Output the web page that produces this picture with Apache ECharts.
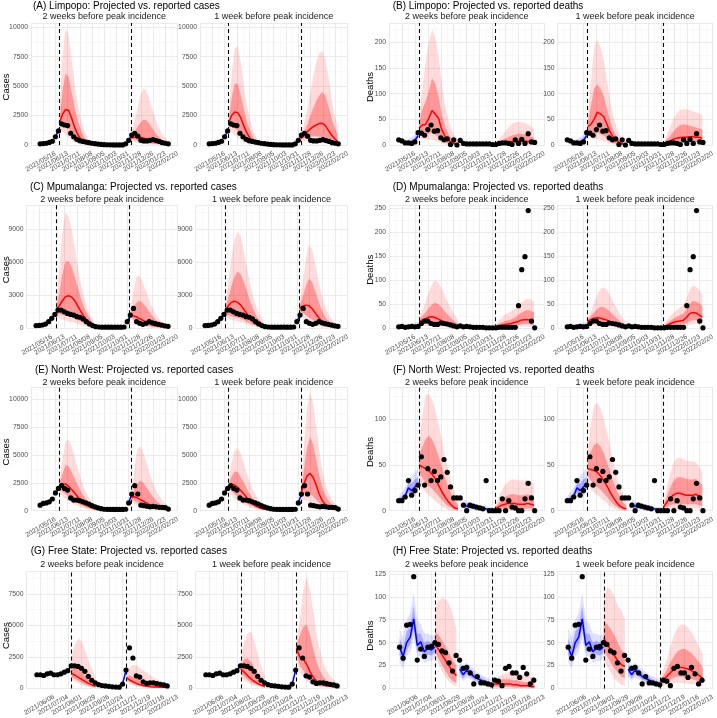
<!DOCTYPE html>
<html><head><meta charset="utf-8">
<script src="https://cdn.jsdelivr.net/npm/echarts@6/dist/echarts.min.js"></script>
<style>html,body{margin:0;padding:0;background:#fff}#c{width:717px;height:718px}</style>
</head><body><div id="c"></div>
<script>
// ---------- tick labels (week index 0 = first label, labels every 4 weeks) ----------
const ticksAF = ['2021/05/16','2021/06/13','2021/07/11','2021/08/08','2021/09/05','2021/10/03','2021/10/31','2021/11/28','2021/12/26','2022/01/23','2022/02/20'];
const ticksGH = ['2021/06/06','2021/07/04','2021/08/01','2021/08/29','2021/09/26','2021/10/24','2021/11/21','2021/12/19','2022/01/16','2022/02/13'];
const obsStart = -5;               // week of first reported value
const dashAF = [1.3, 24.8];        // projection start weeks (dashed lines)
const dashGH = [5.1, 21.2];
const blueSegAF = [[0, 1], [24, 25]];
const blueSegGH = [[4, 5], [20, 21]];

// ---------- reported values (weekly) ----------
const obsA = [100,120,150,220,320,700,1200,1800,1700,1650,1000,700,480,370,300,250,200,150,110,80,50,30,20,15,10,10,10,10,100,400,850,1000,750,400,350,350,400,450,380,300,200,150,100];
const obsB = [10,8,4,4,3,6,24,23,19,30,39,27,28,14,10,12,1,10,0,9,3,2,2,2,2,2,2,2,2,1,1,3,4,4,3,1,10,3,11,3,22,6,5];
const obsC = [250,260,300,380,600,900,1260,1650,1650,1500,1350,1260,1200,1050,1000,850,600,400,250,150,120,100,100,100,100,100,100,100,120,600,1200,1800,600,450,360,450,600,500,420,360,300,220,180];
const obsD = [3,4,2,3,4,3,4,10,15,15,10,8,8,11,10,9,7,5,3,5,3,4,3,2,2,2,2,1,1,1,1,2,2,2,2,2,2,47,122,149,245,15,1];
const obsE = [500,650,700,800,1050,1600,2000,2250,2000,1850,1150,950,950,900,800,700,600,450,350,250,180,130,120,110,110,110,110,110,130,700,1500,2250,1500,500,450,400,350,380,350,300,300,280,150];
const obsF = [11,11,15,33,17,22,28,59,28,46,33,43,33,37,56,42,26,14,14,14,6,0,6,5,4,3,2,33,0,0,0,0,13,0,11,4,3,0,0,13,30,14,0];
const obsG = [1090,1090,1030,1160,1210,1090,1090,1160,1290,1410,1800,1800,1750,1600,1360,960,650,450,300,230,200,170,130,110,100,350,1460,3230,2420,1000,900,530,400,450,450,380,330,280,200];
const obsH = [45,33,69,70,122,31,43,35,45,46,50,48,41,39,28,19,36,31,22,23,17,5,13,6,6,5,4,9,8,3,22,24,17,17,12,23,16,5,9];

// ---------- projections: [median, lo50, hi50, lo95, hi95], weekly from the dashed line ----------
const A2_1 = [[1850,2600,3000,2950,2300,1500,900,500,250,130,60,30,15],[1700,1600,1500,1350,1000,650,380,200,100,50,20,10,5],[2000,4500,6100,5800,4500,3200,2100,1300,700,380,200,100,50],[1500,1100,900,700,450,250,130,60,30,10,5,0,0],[2200,7500,9900,9300,7300,5200,3500,2200,1300,700,380,200,100]];
const A2_2 = [[600,650,680,650,600,520,430,350,270,200,150,110,80],[500,450,380,320,260,200,150,110,80,55,40,30,20],[700,1000,1500,1900,2150,2100,1800,1400,1000,700,450,300,200],[400,300,200,140,100,70,50,35,25,15,10,6,4],[850,1800,3000,4200,4800,4600,3900,3000,2200,1500,1000,650,400]];
const A1_1 = [[1850,2500,2800,2750,2300,1600,1000,550,280,140,70,35,15],[1700,1500,1400,1250,950,620,370,200,100,50,20,10,5],[2000,4000,5200,5200,4200,3000,2000,1200,650,350,180,90,45],[1500,1100,850,650,420,240,120,60,30,10,5,0,0],[2200,6000,8200,8400,7000,5000,3300,2100,1200,650,350,180,90]];
const A1_2 = [[550,800,1100,1350,1550,1700,1820,1850,1650,1250,850,550,300],[450,550,650,700,750,750,700,650,550,420,300,200,120],[650,1100,1700,2400,3100,3700,4200,4500,4200,3300,2300,1500,900],[350,350,350,330,300,270,230,200,160,120,80,50,30],[800,1700,2900,4300,5700,7000,7800,8000,7300,5800,4000,2600,1600]];

const B2_1 = [[33,39,40,52,67,60,52,30,17,10,5,3,2],[26,22,20,22,25,20,15,9,5,3,1,0,0],[40,70,85,105,130,120,95,60,38,22,13,7,4],[20,12,10,10,10,8,6,3,1,0,0,0,0],[50,110,160,200,225,210,175,120,80,50,30,17,10]];
const B2_2 = [[2,3,4,5,6,7,7,8,8,8,7,7,6],[1,1,1,1,2,2,2,2,2,2,2,2,2],[3,6,9,12,15,18,20,22,22,21,19,16,14],[0,0,0,0,0,0,0,0,0,0,0,0,0],[4,10,18,26,33,40,44,45,45,43,40,36,32]];
const B1_1 = [[36,40,50,64,60,55,40,25,15,9,4,2,1],[30,25,22,24,22,18,12,7,4,2,1,0,0],[42,75,110,118,110,95,70,45,28,16,9,5,3],[22,14,11,11,10,8,5,3,1,0,0,0,0],[55,120,190,205,190,165,125,85,55,33,20,12,7]];
const B1_2 = [[2,5,8,11,13,14,15,15,16,16,15,15,13],[1,2,3,4,5,5,6,6,6,6,6,5,5],[4,10,18,26,33,38,40,40,38,36,34,32,30],[0,0,0,1,1,1,1,1,1,1,1,1,1],[6,18,35,50,60,67,70,70,68,66,64,62,58]];
const B_fit = [[9,7,5,5,6,9,18],[8,6,4,3,4,6,14],[11,9,7,8,10,14,22],[7,4,2,2,3,4,10],[12,10,10,12,15,20,27]];

const C2_1 = [[1600,2000,2450,2850,2950,2850,2500,2000,1500,1050,700,450,280],[1400,1300,1200,1150,1100,1000,900,750,600,450,300,200,120],[1800,3000,4800,6000,6100,5600,4700,3700,2700,1900,1300,800,500],[1100,900,800,700,650,580,500,400,300,200,130,80,50],[2000,5000,8500,10500,10200,9000,7300,5600,4000,2800,1800,1100,700]];
const C2_2 = [[1200,1150,1050,900,750,600,470,360,270,200,150,110,80],[1100,850,650,500,380,280,200,140,100,70,50,35,25],[1300,1800,2300,2500,2350,2000,1600,1200,850,600,420,280,180],[1000,600,400,280,200,140,100,70,50,35,25,15,10],[1400,3000,4600,4800,4300,3500,2700,2000,1400,950,650,430,280]];
const C1_1 = [[1500,2000,2350,2450,2350,2100,1700,1300,900,600,380,240,150],[1300,1200,1100,1000,950,850,720,580,450,320,220,140,90],[1700,2700,3800,4700,5150,4900,4200,3300,2400,1700,1100,700,450],[1100,900,780,700,620,540,450,350,260,180,120,75,45],[1900,4000,6300,8000,8800,8300,7000,5400,4000,2800,1900,1200,800]];
const C1_2 = [[1800,2000,2100,2050,1800,1400,1000,650,400,250,160,100,60],[1600,1400,1200,1000,800,600,420,280,180,110,70,45,30],[2000,2800,3800,4500,4200,3400,2500,1700,1100,700,450,280,170],[1400,1000,750,550,400,280,190,120,80,50,30,20,12],[2200,4000,6200,7600,7200,5900,4400,3100,2100,1400,900,570,360]];

const D2_1 = [[14,17,20,23,24,22,19,16,13,10,7,5,3],[10,10,10,10,10,9,8,7,6,5,3,2,1],[18,25,33,42,50,53,50,43,35,27,20,14,10],[7,6,5,5,5,4,4,3,2,1,1,0,0],[22,35,55,75,92,100,95,83,68,53,40,28,18]];
const D2_2 = [[3,5,7,8,9,10,12,14,17,18,18,17,15],[1,2,3,4,5,5,6,7,8,9,9,8,7],[5,9,12,15,17,19,22,27,32,36,38,36,33],[0,0,1,1,2,2,2,3,3,4,4,4,3],[8,15,22,28,32,36,40,46,53,58,62,60,55]];
const D1_1 = [[15,18,21,22,21,19,17,14,11,8,6,4,3],[11,11,11,10,10,9,8,7,5,4,3,2,1],[18,25,33,40,45,44,40,34,27,21,15,10,7],[8,7,6,6,5,5,4,3,2,1,1,0,0],[22,35,52,70,82,85,80,68,55,42,30,20,13]];
const D1_2 = [[3,6,9,12,14,15,16,22,30,33,32,28,23],[1,2,4,5,6,7,8,10,14,17,17,15,13],[5,10,15,20,24,27,30,38,50,57,56,52,46],[0,1,1,2,3,3,4,5,7,9,9,8,7],[8,16,24,32,38,43,48,60,78,88,87,80,70]];
const D_fit = [[3,3,3,3,3,4,5],[2,2,2,2,2,2,3],[4,5,5,6,7,8,9],[1,1,1,1,1,1,1],[6,7,8,9,10,12,14]];

const E2_1 = [[2150,2400,2400,2200,1900,1600,1250,950,700,500,350,230,150],[1900,1700,1500,1300,1100,900,700,520,380,270,180,120,80],[2300,3300,4100,4000,3500,2900,2300,1750,1300,900,600,400,250],[1700,1300,1050,850,700,550,420,300,210,140,90,60,40],[2500,4500,6200,6400,5800,4800,3800,2900,2100,1500,1000,650,400]];
const E2_2 = [[1200,1250,1150,1000,850,700,550,420,320,240,180,130,90],[1000,900,750,600,480,380,300,230,170,120,90,60,40],[1350,1900,2400,2700,2500,2100,1700,1300,950,700,500,350,240],[850,650,500,380,290,220,160,120,85,60,40,28,18],[1500,3500,5500,5800,5200,4300,3400,2600,1900,1400,1000,700,480]];
const E1_1 = [[2200,2350,2300,2100,1800,1500,1150,850,600,420,280,180,120],[2000,1750,1500,1250,1050,850,650,480,350,240,160,100,65],[2350,3100,3550,3450,3000,2500,1950,1450,1050,730,500,330,210],[1800,1350,1050,850,680,530,400,290,200,140,90,60,40],[2600,4300,5400,5600,5100,4200,3300,2500,1800,1300,900,600,400]];
const E1_2 = [[1500,2400,3100,3350,3000,2300,1500,900,550,350,220,140,90],[1300,1500,1600,1500,1300,1000,700,450,280,180,110,70,45],[1700,3600,5600,6600,6000,4600,3200,2100,1400,900,580,380,250],[1100,1000,900,800,650,500,350,230,150,95,60,40,25],[1900,5500,9200,10600,9700,7600,5400,3600,2400,1600,1050,700,450]];

const F2_1 = [[50,48,46,44,40,35,28,21,15,10,6,3,2],[42,36,30,27,24,20,16,12,8,5,3,1,0],[60,70,78,82,78,70,60,48,36,26,18,11,7],[33,25,20,17,14,11,8,5,3,1,0,0,0],[70,105,126,128,122,110,95,78,60,44,30,20,12]];
const F2_2 = [[2,4,6,7,8,8,8,7,7,7,8,7,6],[1,1,2,2,2,2,2,2,2,2,2,2,2],[4,8,12,15,17,18,18,17,17,17,18,17,15],[0,0,0,0,0,0,0,0,0,0,0,0,0],[6,14,22,28,32,34,34,33,33,33,34,32,30]];
const F1_1 = [[46,45,44,42,38,33,27,20,14,9,5,3,2],[38,33,29,26,23,19,15,11,7,4,2,1,0],[55,65,72,74,70,63,53,42,31,22,15,9,6],[30,24,20,17,14,11,8,5,3,1,0,0,0],[65,95,115,118,112,100,86,70,53,38,26,17,10]];
const F1_2 = [[4,9,14,17,19,19,18,17,17,17,18,16,13],[2,4,6,7,7,7,7,7,7,7,7,6,5],[6,15,25,32,36,37,36,35,34,34,35,32,28],[0,1,1,2,2,2,2,2,2,2,2,2,1],[9,24,40,52,57,58,57,55,54,54,53,48,42]];
const F_fit = [[11,13,16,25,22,26,30],[10,11,13,20,18,21,24],[13,16,20,30,30,34,37],[8,9,11,15,15,17,20],[16,20,25,35,38,43,46]];
const F_fitMid = [[6,5,4,4,3,3,2,2,1,1],[4,3,2,2,1,1,1,1,0,0],[9,7,6,6,5,4,4,3,3,2],[2,1,1,1,0,0,0,0,0,0],[13,10,9,8,7,6,6,5,4,4]];

const G2_1 = [[1200,1050,880,720,550,400,280,180],[900,750,600,450,320,220,140,80],[2100,1900,1600,1300,1000,700,480,320],[700,550,400,280,180,110,60,30],[2500,3500,4000,3700,3000,2200,1500,900]];
const G2_2 = [[850,650,500,380,290,220,170,140,120,110,100,100,100],[700,500,350,250,180,130,100,80,65,55,50,45,40],[1000,1000,900,780,650,540,440,360,300,250,210,180,160],[500,300,200,140,100,70,50,40,30,25,20,18,15],[1200,1700,1900,1800,1600,1400,1200,1000,850,700,580,480,400]];
const G1_1 = [[1550,1300,1000,750,550,380,250,160],[1200,950,700,500,350,230,150,90],[1900,2300,2400,2100,1600,1100,700,430],[900,650,450,300,200,130,80,45],[2300,3600,4400,4500,3700,2600,1700,1000]];
const G1_2 = [[3200,2500,2350,1900,1300,850,550,380,280,220,180,150,130],[2800,1800,1400,1000,650,420,280,190,140,110,90,75,65],[3400,4200,4900,5050,4200,3000,2000,1300,850,600,420,300,220],[2300,1300,900,600,380,250,170,120,90,70,55,45,38],[3700,5500,7800,8800,7800,5900,4100,2800,1900,1300,900,650,480]];

const H2_1 = [[48,42,36,30,24,18,14],[40,32,25,18,12,8,6],[62,58,52,45,38,30,25],[36,26,18,12,7,4,2],[88,96,99,97,92,80,65]];
const H2_2 = [[4,5,5,5,5,5,4,4,3,3,3,2,2],[2,2,2,2,2,2,1,1,1,1,1,1,1],[5,7,9,10,10,10,9,9,8,7,7,6,6],[0,0,0,0,0,0,0,0,0,0,0,0,0],[6,10,13,15,17,18,18,17,16,15,14,13,12]];
const H1_1 = [[55,48,42,36,30,26,24],[42,35,28,22,17,13,11],[73,70,65,58,50,42,38],[32,24,17,11,7,4,3],[100,110,108,100,90,85,75]];
const H1_2 = [[7,10,14,18,21,23,23,22,21,19,17,14,11],[5,6,8,10,12,13,13,12,11,10,9,7,6],[9,15,22,30,36,41,43,43,41,38,33,28,23],[3,3,4,5,6,6,6,6,5,5,4,3,2],[12,22,35,48,60,67,70,69,66,60,53,45,37]];
const H_fit = [[45,35,50,56,76,47,51,40,44,42,45],[36,28,42,48,65,40,42,34,37,36,39],[55,45,62,68,90,60,60,50,52,50,52],[28,22,35,40,55,35,35,28,30,30,33],[66,55,75,82,105,75,70,60,60,58,58]];
const H_fitMid = [[21,15,20,17,13,11,9,7,6,5],[17,11,16,13,10,8,6,5,4,3],[25,20,24,21,17,14,12,10,8,7],[13,8,12,10,7,5,4,3,2,2],[30,26,28,25,21,18,15,13,11,10]];

// ---------- layout (pixels) ----------
const FONT = "'Liberation Sans', Arial, Helvetica, sans-serif";
const rows = [
  {top: 23, bottom: 145, titleY: 6, subY: 16.7},
  {top: 205.3, bottom: 328.3, titleY: 187.3, subY: 199.3},
  {top: 387.3, bottom: 510.7, titleY: 370, subY: 382.3},
  {top: 571.5, bottom: 693.7, titleY: 551.7, subY: 565}
];
const colWide = [31, 177.5, 200, 347.5];
const colNarrow = [26.6, 177.5, 195.5, 347.5];
const colRight = [389, 544.4, 557.6, 712.7];

const panels = [
  {title:'(A) Limpopo: Projected vs. reported cases', ylab:'Cases', row:0, xs:colWide, tx:33, lx:6, ymax:10365, yint:2500, obs:obsA, dash:dashAF, ticks:ticksAF, xmax:40, proj:[[A2_1,A2_2],[A1_1,A1_2]], fits:[], seg:blueSegAF},
  {title:'(B) Limpopo: Projected vs. reported deaths', ylab:'Deaths', row:0, xs:colRight, tx:392.7, lx:370.3, ymax:237.7, yint:50, obs:obsB, dash:dashAF, ticks:ticksAF, xmax:40, proj:[[B2_1,B2_2],[B1_1,B1_2]], fits:[[-5,B_fit]], seg:[]},
  {title:'(C) Mpumalanga: Projected vs. reported cases', ylab:'Cases', row:1, xs:colNarrow, tx:30, lx:6, ymax:11150, yint:3000, obs:obsC, dash:dashAF, ticks:ticksAF, xmax:40, proj:[[C2_1,C2_2],[C1_1,C1_2]], fits:[], seg:blueSegAF},
  {title:'(D) Mpumalanga: Projected vs. reported deaths', ylab:'Deaths', row:1, xs:colRight, tx:392.7, lx:370.3, ymax:256, yint:50, obs:obsD, dash:dashAF, ticks:ticksAF, xmax:40, proj:[[D2_1,D2_2],[D1_1,D1_2]], fits:[[-5,D_fit]], seg:[]},
  {title:'(E) North West: Projected vs. reported cases', ylab:'Cases', row:2, xs:colWide, tx:35, lx:6, ymax:11077, yint:2500, obs:obsE, dash:dashAF, ticks:ticksAF, xmax:40, proj:[[E2_1,E2_2],[E1_1,E1_2]], fits:[], seg:blueSegAF},
  {title:'(F) North West: Projected vs. reported deaths', ylab:'Deaths', row:2, xs:colRight, tx:393, lx:370.3, ymax:135, yint:50, obs:obsF, dash:dashAF, ticks:ticksAF, xmax:40, proj:[[F2_1,F2_2],[F1_1,F1_2]], fits:[[-5,F_fit],[15,F_fitMid]], seg:[]},
  {title:'(G) Free State: Projected vs. reported cases', ylab:'Cases', row:3, xs:colNarrow, tx:30.7, lx:6, ymax:9286, yint:2500, obs:obsG, dash:dashGH, ticks:ticksGH, xmax:36, proj:[[G2_1,G2_2],[G1_1,G1_2]], fits:[], seg:blueSegGH},
  {title:'(H) Free State: Projected vs. reported deaths', ylab:'Deaths', row:3, xs:colRight, tx:392.7, lx:370.3, ymax:127.6, yint:25, obs:obsH, dash:dashGH, ticks:ticksGH, xmax:36, proj:[[H2_1,H2_2],[H1_1,H1_2]], fits:[[-5,H_fit],[12,H_fitMid]], seg:[]}
];
const subTitles = ['2 weeks before peak incidence', '1 week before peak incidence'];

const RED_OUT = 'rgba(255,0,0,0.14)', RED_IN = 'rgba(255,0,0,0.30)';
const BLUE_OUT = 'rgba(0,0,255,0.12)', BLUE_IN = 'rgba(0,0,255,0.24)';

function band(ax, start, lo, hi, color, z) {
  return {
    type: 'custom', xAxisIndex: ax, yAxisIndex: ax, z: z, silent: true, clip: false,
    data: [[start, lo[0]]],
    renderItem: function (params, api) {
      const pts = [];
      for (let i = 0; i < hi.length; i++) pts.push(api.coord([start + i, hi[i]]));
      for (let i = lo.length - 1; i >= 0; i--) pts.push(api.coord([start + i, lo[i]]));
      return {type: 'polygon', shape: {points: pts}, style: {fill: color}};
    }
  };
}
function line(ax, pts, color, z) {
  return {type: 'line', xAxisIndex: ax, yAxisIndex: ax, z: z, silent: true, data: pts,
    symbol: 'none', showSymbol: false, lineStyle: {color: color, width: 1.5}};
}
function isTick(v, step) {
  const q = v / step;
  return Math.abs(q - Math.round(q)) < 1e-6;
}

const grids = [], xAxes = [], yAxes = [], series = [], graphics = [];
panels.forEach(p => {
  const r = rows[p.row];
  graphics.push({type: 'text', x: p.tx, y: r.titleY, style: {text: p.title, font: '10px ' + FONT, fill: '#000', textAlign: 'left', textVerticalAlign: 'middle'}});
  graphics.push({type: 'text', x: p.lx, y: (r.top + r.bottom) / 2 + 3, rotation: Math.PI / 2,
    style: {text: p.ylab, font: '9.5px ' + FONT, fill: '#000', textAlign: 'center', textVerticalAlign: 'middle'}});
  for (let s = 0; s < 2; s++) {
    const ax = grids.length;
    const left = p.xs[2 * s], right = p.xs[2 * s + 1];
    grids.push({left: left, top: r.top, width: right - left, height: r.bottom - r.top});
    graphics.push({type: 'text', x: (left + right) / 2, y: r.subY, style: {text: subTitles[s], font: '9px ' + FONT, fill: '#1a1a1a', textAlign: 'center', textVerticalAlign: 'middle'}});
    xAxes.push({type: 'value', gridIndex: ax, min: -8, max: p.xmax + 0.001, interval: 4,
      axisLine: {show: false}, axisTick: {show: false},
      splitLine: {show: true, lineStyle: {color: '#e8e8e8', width: 0.9}},
      minorTick: {show: false, splitNumber: 2},
      minorSplitLine: {show: true, lineStyle: {color: '#f3f3f3', width: 0.6}},
      axisLabel: {rotate: 30, fontSize: 6.8, fontFamily: FONT, color: '#4d4d4d', margin: 8,
        formatter: v => (v < 0 || !isTick(v, 4) ? '' : (p.ticks[Math.round(v / 4)] || ''))}});
    yAxes.push({type: 'value', gridIndex: ax, min: 0, max: p.ymax, interval: p.yint,
      axisLine: {show: false}, axisTick: {show: false},
      splitLine: {show: true, lineStyle: {color: '#e8e8e8', width: 0.9}},
      minorTick: {show: false, splitNumber: 2},
      minorSplitLine: {show: true, lineStyle: {color: '#f3f3f3', width: 0.6}},
      axisLabel: {fontSize: 6.8, fontFamily: FONT, color: '#4d4d4d', margin: 3,
        formatter: v => (isTick(v, p.yint) ? String(v) : '')}});
    // fitted (blue) bands
    p.fits.forEach(f => {
      const st = f[0], d = f[1];
      series.push(band(ax, st, d[3], d[4], BLUE_OUT, 1));
      series.push(band(ax, st, d[1], d[2], BLUE_IN, 1));
      series.push(line(ax, d[0].map((v, i) => [st + i, v]), '#0000ff', 3));
    });
    // projections
    p.proj[s].forEach((pr, wi) => {
      const st = p.dash[wi];
      series.push(band(ax, st, pr[3], pr[4], RED_OUT, 1));
      series.push(band(ax, st, pr[1], pr[2], RED_IN, 1));
      series.push(line(ax, pr[0].map((v, i) => [st + i, v]), '#ff0000', 3));
    });
    // short fitted segments leading into projections (cases)
    p.seg.forEach(sg => {
      series.push(line(ax, sg.map(w => [w, p.obs[w - obsStart]]), '#0000ff', 3));
    });
    // reported values + dashed lines
    series.push({type: 'scatter', xAxisIndex: ax, yAxisIndex: ax, z: 5, silent: true,
      data: p.obs.map((v, i) => [obsStart + i, v]), symbolSize: 5.2, itemStyle: {color: '#000', opacity: 1},
      markLine: {silent: true, symbol: ['none', 'none'], label: {show: false},
        lineStyle: {color: '#000', type: [4, 3], width: 1.1},
        data: p.dash.map(d => ({xAxis: d}))}});
  }
});

const chart = echarts.init(document.getElementById('c'), null, {renderer: 'canvas'});
chart.setOption({animation: false, backgroundColor: '#fff', grid: grids, xAxis: xAxes, yAxis: yAxes, series: series, graphic: graphics});
</script></body></html>
